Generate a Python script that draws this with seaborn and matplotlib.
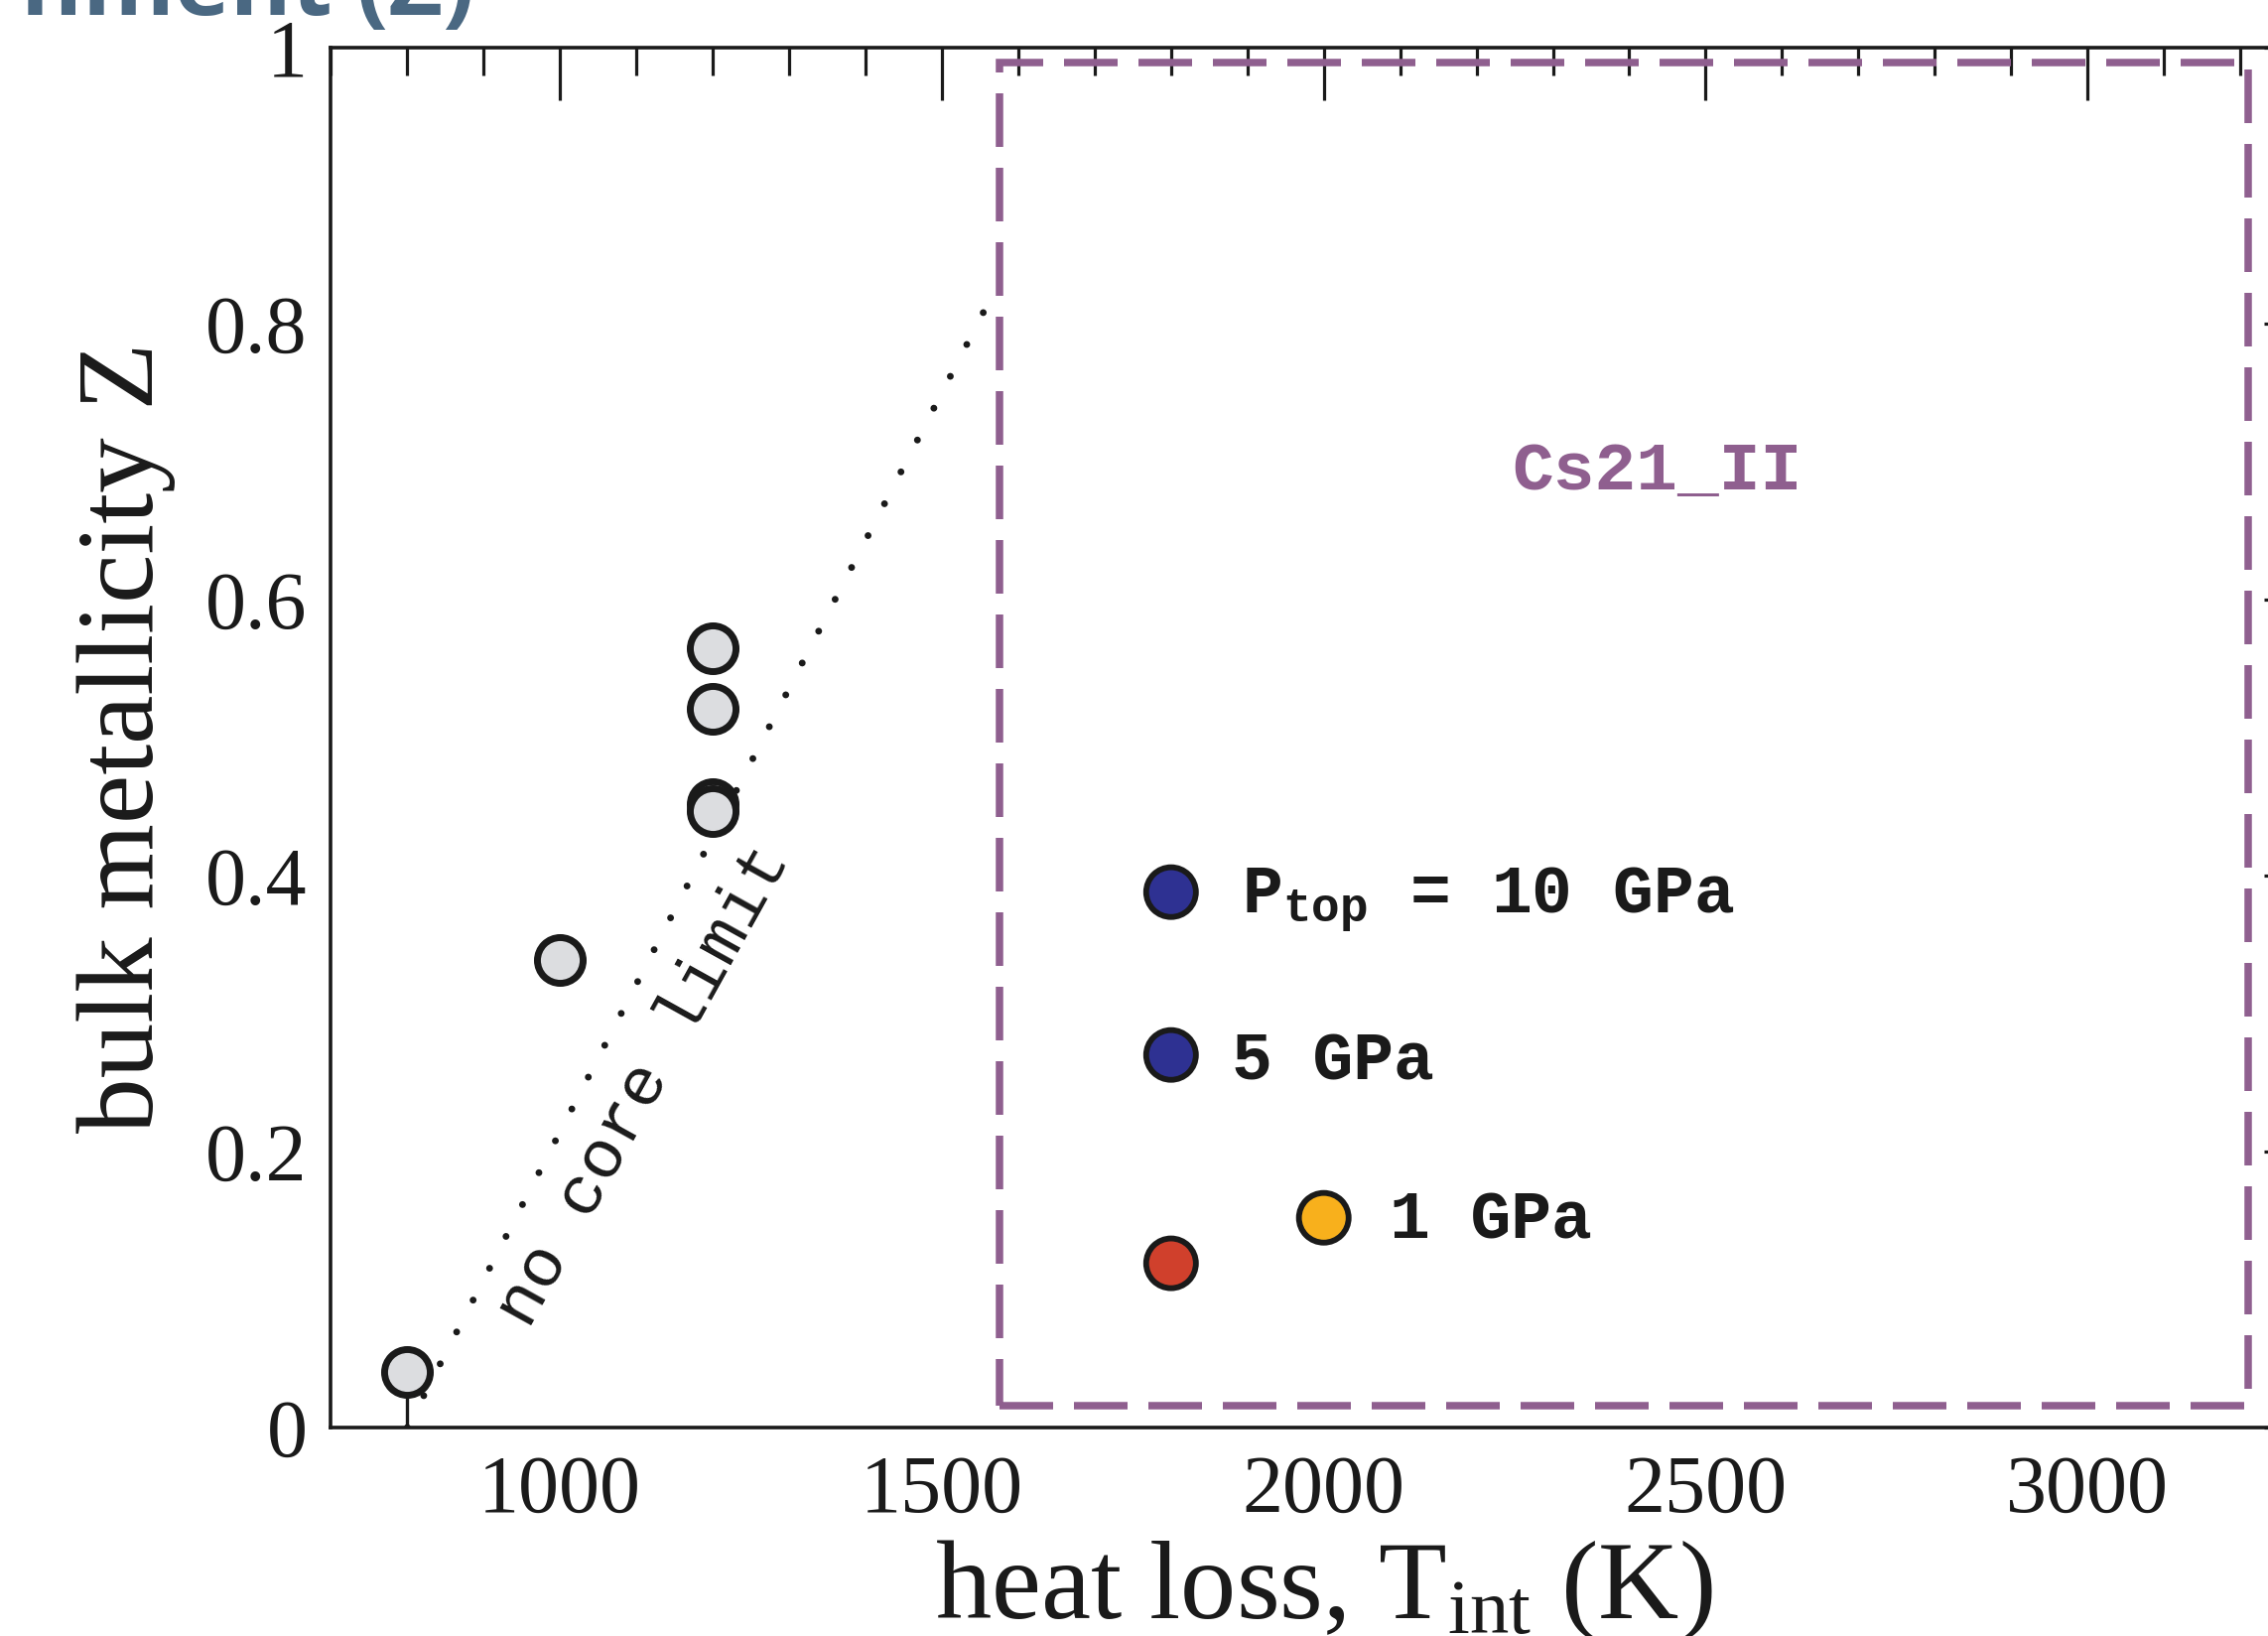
import numpy as np
import pandas as pd
import seaborn as sns
import matplotlib.pyplot as plt
from matplotlib.patches import Rectangle
from matplotlib.ticker import MultipleLocator, FuncFormatter

# no-core models (gray circles)
gray_T = [800, 1000, 1200, 1200, 1200, 1200]
gray_Z = [0.040, 0.339, 0.565, 0.521, 0.452, 0.447]

# Cs21_II models, coloured by top pressure
cs_T = [1800, 1800, 1800, 2000]
cs_Z = [0.388, 0.270, 0.119, 0.152]
cs_case = ["10 GPa", "5 GPa", "1 GPa red", "1 GPa"]
cs_colors = {"10 GPa": "#2e3192", "5 GPa": "#2e3192",
             "1 GPa red": "#d0402c", "1 GPa": "#f8b01c"}

# "no core limit" dotted line
limit_T = [800, 1570]
limit_Z = [0.0, 0.825]

# Cs21_II box
box_T = [1575, 3210]
box_Z = [0.0155, 0.9893]

gray_df = pd.DataFrame({"T_int": gray_T, "Z": gray_Z})
cs_df = pd.DataFrame({"T_int": cs_T, "Z": cs_Z, "case": cs_case})

sns.set_style("white")
plt.rcParams["font.family"] = ["Liberation Serif", "DejaVu Serif"]
plt.rcParams["mathtext.fontset"] = "custom"
plt.rcParams["mathtext.rm"] = "Liberation Serif"
plt.rcParams["mathtext.it"] = "Liberation Serif:italic"
plt.rcParams["mathtext.tt"] = "Liberation Mono:bold"

fig = plt.figure(figsize=(22.85, 16.48), dpi=100)
ax = fig.add_axes([333.4 / 2285, 1 - 1438 / 1648, (2334 - 333.4) / 2285, 1390 / 1648])

# dotted limit line and the short stem under the first point
ax.plot(limit_T, limit_Z, color="#1a1a1a", lw=5.0, ls=(0, (0.001, 5.2)),
        dash_capstyle="round", zorder=2)
ax.plot([gray_T[0], gray_T[0]], [0, gray_Z[0]], color="#1a1a1a", lw=2.4, zorder=2)

sns.scatterplot(data=gray_df, x="T_int", y="Z", s=1100, color="#dcdde0",
                edgecolor="#1a1a1a", linewidth=5.0, ax=ax, zorder=3, legend=False)
sns.scatterplot(data=cs_df, x="T_int", y="Z", hue="case", palette=cs_colors, s=1300,
                edgecolor="#1a1a1a", linewidth=4.2, ax=ax, zorder=3, legend=False)

purple = "#8f5f8f"
ax.add_patch(Rectangle((box_T[0], box_Z[0]), box_T[1] - box_T[0], box_Z[1] - box_Z[0],
                       fill=False, edgecolor=purple, lw=5.4, ls=(0, (7.2, 2.8)),
                       capstyle="butt", zorder=2))

mono = ["Liberation Mono", "DejaVu Sans Mono"]
ax.text(2436, 0.680, "Cs21_II", color=purple, fontsize=50, family=mono,
        weight="bold", ha="center", va="baseline")
ax.text(1893, 0.3727, r"P$_{\mathtt{top}}$ = 10 GPa", color="#1a1a1a", fontsize=49,
        family=mono, weight="bold", ha="left", va="baseline")
ax.text(1879, 0.2525, "5 GPa", color="#1a1a1a", fontsize=49, family=mono,
        weight="bold", ha="left", va="baseline")
ax.text(2086, 0.1374, "1 GPa", color="#1a1a1a", fontsize=49, family=mono,
        weight="bold", ha="left", va="baseline")
ax.text(1109, 0.248, "no core limit", color="#1a1a1a", fontsize=50, family=mono,
        rotation=61, rotation_mode="anchor", ha="center", va="center")

ax.set_xlim(700, 3300)
ax.set_ylim(0, 1)
ax.xaxis.set_major_locator(MultipleLocator(500))
ax.xaxis.set_minor_locator(MultipleLocator(100))
ax.yaxis.set_major_locator(MultipleLocator(0.2))
ax.yaxis.set_minor_locator(MultipleLocator(0.05))
ax.yaxis.set_major_formatter(FuncFormatter(lambda v, p: "%g" % round(v, 2)))

ax.tick_params(which="both", direction="in", top=True, right=True,
               width=2.3, color="#1a1a1a", labelsize=59, labelcolor="#1a1a1a")
ax.tick_params(which="major", length=38)
ax.tick_params(which="minor", length=20)
ax.tick_params(axis="x", which="major", pad=20)
ax.tick_params(axis="y", which="major", pad=17)
for sp in ax.spines.values():
    sp.set_linewidth(2.6)
    sp.set_color("#1a1a1a")

ax.set_xlabel(r"heat loss, T$_{\rm int}$ (K)", fontsize=81, color="#1a1a1a")
ax.set_ylabel("bulk metallicity Z", fontsize=80, color="#1a1a1a")
ax.xaxis.set_label_coords(0.500, -0.080)
ax.yaxis.set_label_coords(-0.078, 0.5)

# slide title fragment cut off at the top edge
fig.text(478 / 2285, 1 - 15 / 1648, "nment (Z)", ha="right", va="baseline",
         fontsize=68, weight="bold", family=["Open Sans", "DejaVu Sans"], color="#4a6882")

fig.savefig("out.png", dpi=100)
